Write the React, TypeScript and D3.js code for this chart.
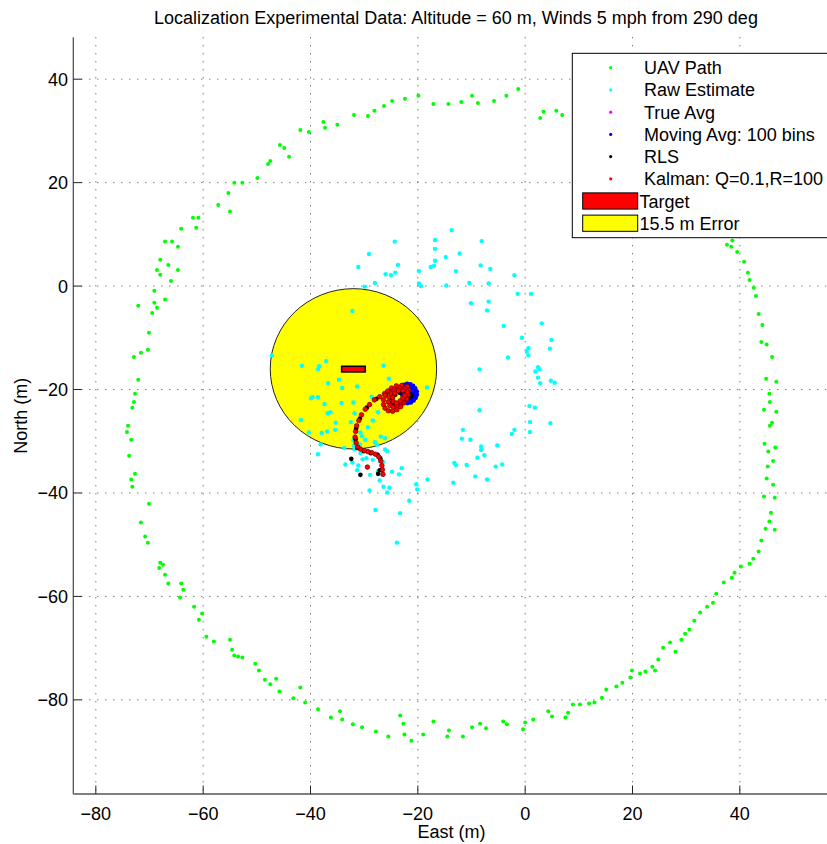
import React, { useEffect, useRef } from "react";
import * as d3 from "d3";

type Pt = [number, number];

// east, north in metres
const uavPath: Pt[] = [
  [-1.3, 38.1], [-3.5, 36.8], [-5.8, 35.8], [-8.8, 35.4], [-9.9, 36.8], [-11.9, 35.6], [-14.3, 35.2],
  [-17.1, 35.2], [-19.9, 36.8], [-22.4, 36.2], [-24.8, 35.8], [-26.3, 34.8], [-28.1, 33.9], [-29.3, 32.9],
  [-31.9, 33.1], [-35.0, 31.2], [-37.6, 31.7], [-37.3, 30.6], [-40.3, 29.8], [-41.9, 30.2], [-44.9, 26.7],
  [-45.7, 27.3], [-44.0, 25.0], [-47.5, 24.2], [-47.9, 23.6], [-49.9, 20.9], [-52.7, 20.0], [-54.2, 20.0],
  [-55.3, 18.0], [-55.0, 14.4], [-57.2, 15.7], [-60.9, 13.2], [-61.9, 13.2], [-61.3, 11.3], [-64.1, 11.1],
  [-65.8, 8.6], [-67.1, 8.6], [-64.7, 7.6], [-68.0, 5.1], [-66.5, 4.1], [-68.6, 3.1], [-68.0, 2.2],
  [-64.7, 3.1], [-66.0, 1.0], [-69.1, -0.9], [-69.1, -3.2], [-72.1, -3.8], [-68.6, -4.2], [-69.5, -5.2],
  [-67.1, -2.6], [-70.1, -9.0], [-71.6, -12.9], [-72.9, -13.7], [-70.3, -12.3], [-72.1, -18.1], [-72.7, -20.8],
  [-72.9, -22.4], [-73.2, -23.5], [-74.0, -27.0], [-74.2, -28.2], [-73.4, -29.7], [-73.8, -32.8], [-72.7, -36.3],
  [-73.2, -38.8], [-73.4, -37.4], [-70.1, -42.1], [-71.6, -45.7], [-70.8, -48.4], [-70.3, -49.6], [-68.0, -53.5],
  [-67.5, -53.9], [-68.2, -54.5], [-67.1, -55.8], [-66.5, -57.5], [-64.1, -57.5], [-63.7, -58.7], [-64.3, -60.2],
  [-61.7, -62.0], [-60.8, -64.5], [-60.2, -63.3], [-59.4, -67.8], [-58.0, -68.7], [-55.0, -68.4], [-54.6, -70.3],
  [-54.2, -71.4], [-53.5, -71.6], [-52.7, -71.8], [-50.3, -73.0], [-49.6, -74.3], [-48.5, -76.1], [-47.5, -77.0],
  [-46.4, -75.9], [-45.8, -78.4], [-43.2, -79.7], [-41.9, -77.6], [-41.0, -80.5], [-38.6, -81.8], [-36.2, -83.4],
  [-34.5, -82.2], [-34.1, -83.8], [-32.1, -84.7], [-30.4, -85.3], [-27.8, -86.1], [-25.5, -87.1], [-23.3, -83.0],
  [-22.7, -84.6], [-22.5, -86.7], [-21.2, -87.9], [-19.0, -86.7], [-17.1, -84.2], [-14.5, -87.1], [-14.2, -85.9],
  [-11.6, -87.1], [-9.9, -85.3], [-8.4, -84.6], [-7.3, -85.5], [-4.1, -84.2], [-3.4, -84.7], [-0.4, -85.7],
  [0.0, -84.4], [1.5, -83.8], [4.3, -82.2], [5.0, -83.2], [7.5, -83.4], [8.0, -82.5], [8.9, -80.9],
  [10.2, -80.9], [11.9, -80.7], [12.9, -80.5], [14.3, -79.6], [15.1, -78.0], [17.0, -77.4], [18.1, -76.7],
  [19.6, -75.7], [19.9, -74.3], [21.4, -74.9], [22.4, -74.5], [23.7, -73.6], [24.2, -74.3], [24.8, -72.2],
  [25.7, -69.9], [27.0, -68.9], [28.0, -70.7], [29.1, -68.4], [29.8, -67.2], [30.6, -66.4], [31.5, -64.7],
  [32.6, -63.1], [33.9, -62.0], [35.0, -61.2], [35.6, -59.5], [37.0, -57.3], [38.5, -56.4], [39.0, -55.4],
  [40.2, -54.2], [41.8, -53.7], [42.5, -52.7], [43.5, -51.3], [44.0, -49.2], [46.5, -47.1], [44.8, -46.9],
  [45.5, -45.5], [45.8, -43.8], [46.5, -40.9], [44.5, -40.7], [46.2, -38.4], [45.0, -37.2], [45.2, -34.9],
  [46.2, -33.8], [45.3, -32.0], [46.6, -31.2], [44.6, -30.5], [45.6, -27.0], [46.0, -26.4], [46.8, -24.3],
  [44.5, -23.9], [45.6, -22.4], [45.5, -20.8], [44.9, -17.9], [46.8, -18.5], [46.0, -13.7], [45.0, -11.3],
  [44.0, -10.8], [44.2, -7.5], [43.5, -5.4], [43.0, -1.9], [42.6, -0.3], [41.8, 1.2], [41.5, 2.6],
  [40.8, 4.7], [39.5, 6.6], [38.4, 7.6], [37.6, 8.0], [38.6, 8.8], [3.4, 33.7], [2.8, 32.5],
  [5.8, 33.9], [6.9, 33.1],
];

const rawEstimate: Pt[] = [
  [-13.7, 10.8], [-16.8, 8.9], [-24.3, 8.6], [-8.1, 8.7], [-16.8, 7.2], [-29.1, 6.2], [-14.8, 5.6],
  [-12.2, 6.3], [-16.8, 4.9], [-17.6, 3.7], [-17.0, 3.9], [-23.7, 4.1], [-31.1, 3.7], [-8.3, 4.0],
  [-6.5, 3.3], [-24.2, 2.6], [-26.0, 2.3], [-25.0, 2.1], [-19.8, 2.9], [-12.9, 2.9], [-2.0, 2.1],
  [-28.0, 0.6], [-29.9, -0.1], [-19.8, 0.5], [-19.4, 0.0], [-14.7, 0.1], [-10.4, 0.6], [-6.8, 0.5],
  [-1.4, -1.5], [1.1, -1.5], [-10.1, -3.3], [-6.8, -3.0], [-7.1, -4.7], [-32.2, -4.8], [-4.0, -7.7],
  [3.1, -7.2], [-0.6, -10.0], [4.9, -10.4], [4.6, -12.1], [0.6, -12.0], [0.3, -12.7], [0.6, -13.4],
  [-3.2, -13.8], [-8.5, -16.1], [2.4, -15.7], [2.7, -16.1], [1.9, -16.5], [2.4, -17.7], [4.8, -18.3],
  [2.8, -18.8], [5.5, -18.7], [-18.3, -19.6], [-25.4, -17.9], [-26.4, -15.4], [-31.3, -19.4], [-34.1, -19.7],
  [-34.7, -18.1], [-36.7, -18.8], [-37.1, -14.5], [-38.4, -15.5], [-38.6, -16.1], [-41.6, -15.4], [-39.6, -21.5],
  [-39.9, -21.7], [-38.6, -21.5], [-37.4, -22.8], [-36.8, -24.6], [-36.3, -24.4], [-34.2, -22.6], [-32.0, -22.5],
  [-28.6, -21.4], [-27.4, -24.4], [-31.8, -24.6], [-32.5, -26.3], [-35.3, -26.4], [-28.4, -26.0], [-29.3, -27.3],
  [-35.4, -27.8], [-36.9, -28.1], [-37.9, -28.4], [-40.3, -28.3], [-41.8, -25.9], [-30.7, -28.3], [-32.0, -29.8],
  [-30.4, -29.0], [-29.8, -29.7], [-26.9, -29.1], [-26.1, -29.4], [-28.0, -30.2], [-27.6, -30.7], [-33.7, -31.3],
  [-31.9, -30.9], [-30.8, -30.6], [-38.1, -30.6], [-38.6, -32.5], [-31.8, -31.6], [-30.7, -32.3], [-29.6, -33.3],
  [-28.4, -33.6], [-26.1, -31.6], [-25.7, -31.9], [-26.5, -34.0], [-27.0, -33.8], [-30.3, -33.5], [-33.5, -34.5],
  [-32.2, -34.1], [-31.1, -34.7], [-31.3, -35.6], [-28.9, -36.5], [-27.4, -35.8], [-27.1, -37.6], [-24.8, -35.9],
  [-23.5, -36.4], [-23.0, -35.2], [-26.4, -38.8], [-25.3, -39.0], [-25.7, -39.9], [-29.0, -39.5], [-20.3, -38.3],
  [-20.1, -39.3], [-18.2, -37.4], [-21.6, -41.5], [-27.9, -43.3], [-23.3, -43.9], [-23.9, -49.6], [-13.4, -38.0],
  [-13.2, -34.2], [-12.9, -34.6], [-10.9, -34.6], [-9.3, -36.8], [-7.1, -37.4], [-8.9, -33.2], [-7.6, -32.7],
  [-8.2, -31.7], [-8.2, -31.0], [-10.2, -29.7], [-11.8, -29.5], [-11.6, -27.8], [-5.2, -30.8], [-5.5, -34.9],
  [-4.3, -34.5], [-8.5, -24.0], [-2.5, -28.6], [-2.0, -27.8], [0.9, -28.2], [0.9, -26.3], [0.8, -23.2],
  [1.8, -23.5], [4.7, -26.5], [-47.2, -13.4],
];

const trueAvg: Pt[] = [
  [-21.6, -20.8], [-21.8, -20.6], [-21.4, -20.9],
];

const movingAvg: Pt[] = [
  [-22.6, -19.1], [-22.0, -18.9], [-21.4, -19.0], [-20.9, -19.3], [-20.5, -19.8], [-20.2, -20.4], [-20.2, -21.0],
  [-20.4, -21.6], [-20.8, -22.1], [-21.3, -22.5], [-21.9, -22.6], [-22.4, -22.3], [-22.7, -21.7], [-22.9, -21.0],
  [-23.0, -20.3], [-22.9, -19.7], [-21.8, -19.6], [-21.2, -19.8], [-20.8, -20.3], [-20.7, -20.9], [-21.0, -21.5],
  [-21.5, -21.9], [-22.1, -21.8], [-22.4, -21.2], [-22.4, -20.5], [-22.1, -20.0], [-21.5, -20.4], [-21.3, -21.0],
  [-21.8, -21.3], [-21.9, -20.7],
];

const rls: Pt[] = [
  [-32.4, -33.4], [-30.7, -36.5], [-27.4, -36.3], [-27.1, -35.6], [-27.0, -33.3], [-27.5, -32.6], [-28.8, -32.3],
  [-30.1, -31.9], [-31.3, -31.3], [-31.6, -29.6], [-31.5, -27.6], [-30.8, -25.6], [-29.5, -23.5], [-27.7, -21.8],
  [-25.8, -20.6], [-24.4, -20.4], [-23.4, -20.6], [-24.2, -21.0], [-24.8, -21.8], [-24.9, -22.6], [-24.4, -23.1],
  [-23.7, -22.9], [-23.1, -22.3], [-22.6, -21.6], [-21.9, -21.0], [-21.5, -20.8], [-21.2, -21.1], [-21.4, -21.5],
  [-21.8, -21.5], [-21.6, -21.2],
];

const kalman: Pt[] = [
  [-26.5, -36.4], [-26.6, -35.5], [-26.7, -34.7], [-26.9, -33.8], [-27.3, -33.0], [-27.9, -32.5], [-28.6, -32.2],
  [-29.3, -32.0], [-30.0, -31.8], [-30.7, -31.5], [-31.2, -31.1], [-31.5, -30.3], [-31.7, -29.2], [-31.6, -28.1],
  [-31.4, -27.0], [-31.0, -26.0], [-30.5, -24.9], [-29.8, -23.8], [-29.0, -22.9], [-28.1, -22.0], [-27.1, -21.4],
  [-26.2, -20.8], [-25.4, -20.3], [-29.4, -35.0],
  [-22.0, -19.4], [-23.0, -19.2], [-24.0, -19.3], [-24.9, -19.7], [-25.6, -20.3], [-26.1, -21.1], [-26.4, -22.0],
  [-26.4, -22.9], [-26.1, -23.6], [-25.5, -24.1], [-24.7, -24.2], [-23.9, -23.9], [-23.2, -23.3], [-22.6, -22.6],
  [-22.1, -21.8], [-21.8, -21.0], [-21.7, -20.2],
  [-22.5, -19.8], [-23.5, -19.7], [-24.4, -20.1], [-25.0, -20.7], [-25.4, -21.5], [-25.5, -22.4], [-25.2, -23.1],
  [-24.6, -23.4], [-23.9, -23.1], [-23.2, -22.5], [-22.7, -21.8], [-22.3, -21.1], [-22.0, -20.5],
  [-22.8, -20.2], [-23.6, -20.2], [-24.3, -20.7], [-24.7, -21.5], [-24.6, -22.3], [-24.0, -22.6], [-23.3, -22.2],
  [-22.8, -21.6], [-22.4, -21.1],
];

const errorCircle = { east: -32, north: -16, radius: 15.5 };
const target = { east: -32, north: -16.05, w: 4.4, h: 1.1 };

const xTicks = [-80, -60, -40, -20, 0, 20, 40];
const yTicks = [40, 20, 0, -20, -40, -60, -80];

const pointLegend = [
  { label: "UAV Path", color: "#00ff00" },
  { label: "Raw Estimate", color: "#00ffff" },
  { label: "True Avg", color: "#ff00ff" },
  { label: "Moving Avg: 100 bins", color: "#0000ff" },
  { label: "RLS", color: "#000000" },
  { label: "Kalman: Q=0.1,R=100", color: "#ff0000" },
];
const patchLegend = [
  { label: "Target", color: "#ff0000" },
  { label: "15.5 m Error", color: "#ffff00" },
];

const App = () => {
  const svgRef = useRef<SVGSVGElement>(null);

  useEffect(() => {
    const width = 827;
    const height = 844;
    const plot = { left: 73.3, right: 830, top: 37.3, bottom: 794 };
    const font = "'Liberation Sans', Arial, Helvetica, sans-serif";

    const svg = d3.select(svgRef.current).attr("width", width).attr("height", height);
    svg.selectAll("*").remove();

    const x = d3.scaleLinear().domain([-84.2, 56.8]).range([plot.left, plot.right]);
    const y = d3.scaleLinear().domain([-98.2, 48.1]).range([plot.bottom, plot.top]);

    svg.append("rect").attr("width", width).attr("height", height).attr("fill", "#fff");

    // grid
    const grid = svg.append("g").attr("stroke", "#444").attr("stroke-width", 1).attr("stroke-dasharray", "1,7");
    xTicks.forEach(t => {
      grid.append("line").attr("x1", x(t)).attr("x2", x(t)).attr("y1", plot.top).attr("y2", plot.bottom);
    });
    yTicks.forEach(t => {
      grid.append("line").attr("y1", y(t)).attr("y2", y(t)).attr("x1", plot.left).attr("x2", plot.right);
    });

    // error circle + target
    svg.append("ellipse")
      .attr("cx", x(errorCircle.east))
      .attr("cy", y(errorCircle.north))
      .attr("rx", x(errorCircle.radius) - x(0))
      .attr("ry", y(0) - y(errorCircle.radius))
      .attr("fill", "#ffff00")
      .attr("stroke", "#222")
      .attr("stroke-width", 1);

    svg.append("rect")
      .attr("x", x(target.east - target.w / 2))
      .attr("y", y(target.north + target.h / 2))
      .attr("width", x(target.w) - x(0))
      .attr("height", y(0) - y(target.h))
      .attr("fill", "#ff0000")
      .attr("stroke", "#000")
      .attr("stroke-width", 1.5);

    const dots = (data: Pt[], color: string, r: number, stroke?: string) => {
      svg.append("g").selectAll("circle").data(data).join("circle")
        .attr("cx", d => x(d[0]))
        .attr("cy", d => y(d[1]))
        .attr("r", r)
        .attr("fill", color)
        .attr("stroke", stroke || "none")
        .attr("stroke-width", 0.7);
    };

    dots(uavPath, "#00ff00", 2);
    dots(rawEstimate, "#00ffff", 2.2);
    dots(trueAvg, "#ff00ff", 2.2);
    dots(movingAvg, "#0000ff", 2.4);
    dots(rls, "#000000", 2.3);
    dots(kalman, "#ff0000", 2.3, "#6a0000");

    // axes
    const axes = svg.append("g").attr("stroke", "#555").attr("stroke-width", 1.3);
    axes.append("line").attr("x1", plot.left).attr("x2", plot.left).attr("y1", plot.top).attr("y2", plot.bottom);
    axes.append("line").attr("x1", plot.left).attr("x2", plot.right).attr("y1", plot.bottom).attr("y2", plot.bottom);

    const tickLen = 8.5;
    xTicks.forEach(t => {
      svg.append("line").attr("x1", x(t)).attr("x2", x(t)).attr("y1", plot.bottom).attr("y2", plot.bottom - tickLen)
        .attr("stroke", "#222");
      svg.append("text").attr("x", x(t)).attr("y", 819.5).attr("text-anchor", "middle")
        .style("font-family", font).style("font-size", "18px")
        .text(t < 0 ? "\u2212" + Math.abs(t) : String(t));
    });
    yTicks.forEach(t => {
      svg.append("line").attr("y1", y(t)).attr("y2", y(t)).attr("x1", plot.left).attr("x2", plot.left + tickLen)
        .attr("stroke", "#222");
      svg.append("text").attr("x", 68).attr("y", y(t)).attr("dy", "0.36em").attr("text-anchor", "end")
        .style("font-family", font).style("font-size", "18px")
        .text(t < 0 ? "\u2212" + Math.abs(t) : String(t));
    });

    svg.append("text").attr("x", 456).attr("y", 24).attr("text-anchor", "middle")
      .style("font-family", font).style("font-size", "18px")
      .text("Localization Experimental Data: Altitude = 60 m, Winds 5 mph from 290 deg");

    svg.append("text").attr("x", 451.5).attr("y", 837.5).attr("text-anchor", "middle")
      .style("font-family", font).style("font-size", "18px")
      .text("East (m)");

    svg.append("text").attr("transform", `translate(26.5,${(plot.top + plot.bottom) / 2}) rotate(-90)`)
      .attr("text-anchor", "middle")
      .style("font-family", font).style("font-size", "18px")
      .text("North (m)");

    // Legend
    const legend = svg.append("g");
    legend.append("rect")
      .attr("x", 572.3).attr("y", 53.3).attr("width", 270).attr("height", 184.4)
      .attr("fill", "#fff").attr("stroke", "#000").attr("stroke-width", 1);

    const rowY = (i: number) => 67.7 + i * 22.23;
    pointLegend.forEach((item, i) => {
      legend.append("circle").attr("cx", 610.7).attr("cy", rowY(i)).attr("r", 1.6).attr("fill", item.color);
      legend.append("text").attr("x", 644).attr("y", rowY(i)).attr("dy", "0.36em")
        .style("font-family", font).style("font-size", "18px").text(item.label);
    });
    patchLegend.forEach((item, j) => {
      const i = j + pointLegend.length;
      legend.append("rect").attr("x", 582.7).attr("y", rowY(i) - 8.2).attr("width", 55).attr("height", 16.2)
        .attr("fill", item.color).attr("stroke", "#000").attr("stroke-width", 1);
      legend.append("text").attr("x", 639.5).attr("y", rowY(i)).attr("dy", "0.36em")
        .style("font-family", font).style("font-size", "18px").text(item.label);
    });
  }, []);

  return <svg ref={svgRef} style={{ position: "absolute", left: 0, top: 0, display: "block" }}></svg>;
};

export default App;
